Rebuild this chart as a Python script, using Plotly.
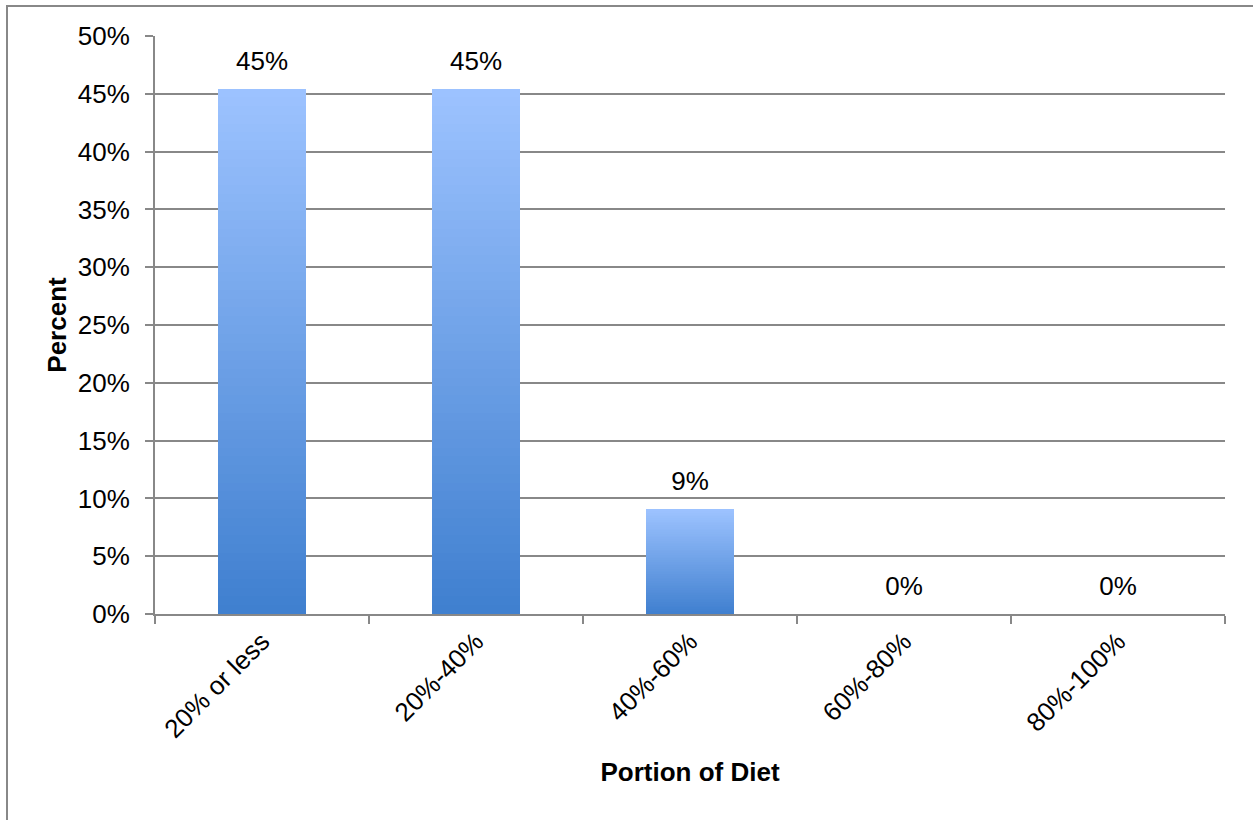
import plotly.graph_objects as go

categories = ["20% or less", "20%-40%", "40%-60%", "60%-80%", "80%-100%"]
values = [5/11, 5/11, 1/11, 0.0, 0.0]
labels = [f"{v:.0%}" for v in values]
y_ticks = [i * 0.05 for i in range(11)]

bottom_rgb = (63, 127, 207)
top_rgb = (157, 195, 255)
N = 60
FS = 26

fig = go.Figure()
for i in range(N):
    t = (i + 0.5) / N
    c = tuple(round(b + (tp - b) * t) for b, tp in zip(bottom_rgb, top_rgb))
    fig.add_trace(go.Bar(
        x=categories, y=[v / N for v in values],
        marker=dict(color=f"rgb{c}", line=dict(width=0)),
        showlegend=False, hoverinfo="skip",
    ))

fig.add_trace(go.Scatter(
    x=categories, y=values, mode="markers+text", text=labels,
    textposition="top center",
    marker=dict(size=18, opacity=0),
    textfont=dict(family="Liberation Sans, Arial", size=FS, color="#000"),
    showlegend=False, hoverinfo="skip", cliponaxis=False,
))

fig.update_layout(
    width=1253, height=820,
    margin=dict(l=155, r=28, t=36, b=206),
    barmode="stack", bargap=0.59,
    plot_bgcolor="white", paper_bgcolor="white",
    font=dict(family="Liberation Sans, Arial", size=FS, color="#000"),
    xaxis=dict(
        type="category", tickson="boundaries", ticks="outside", ticklen=8,
        tickcolor="#888", tickwidth=2, tickangle=-45,
        showline=True, linecolor="#888", linewidth=2, showgrid=False,
        title=dict(text="<b>Portion of Diet</b>", font=dict(size=FS), standoff=20),
        tickfont=dict(size=FS),
    ),
    yaxis=dict(
        range=[0, 0.5], tickvals=y_ticks, tickformat=".0%",
        ticks="outside", ticklen=8, tickcolor="#888", tickwidth=2,
        ticklabelstandoff=10,
        showline=True, linecolor="#888", linewidth=2,
        showgrid=True, gridcolor="#888", gridwidth=1.5, zeroline=False,
        title=dict(text="<b>Percent</b>", font=dict(size=FS), standoff=4),
        tickfont=dict(size=FS),
    ),
    shapes=[dict(
        type="rect", xref="paper", yref="paper",
        x0=(7 - 155) / 1070, x1=(1262 - 155) / 1070,
        y0=(614 - 830) / 578, y1=(614 - 6) / 578,
        line=dict(color="#888", width=2), fillcolor="rgba(0,0,0,0)", layer="below",
    )],
)

fig.write_html("out.html")
